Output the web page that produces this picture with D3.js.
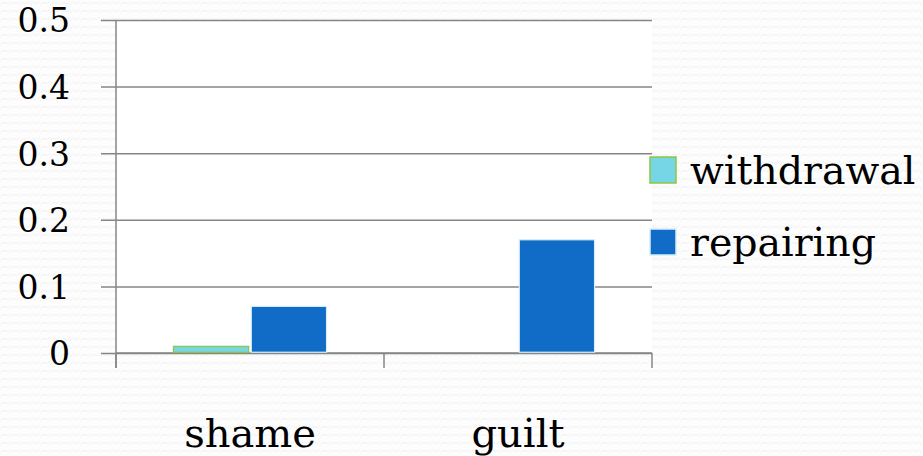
<!DOCTYPE html>
<html><head><meta charset="utf-8">
<script src="https://cdn.jsdelivr.net/npm/d3@7"></script>
<style>html,body{margin:0;padding:0;background:#fff;}svg{display:block;}</style>
</head><body>
<svg id="c" width="923" height="456"></svg>
<script>
const categories = ["shame", "guilt"];
const seriesNames = ["withdrawal", "repairing"];
const withdrawal = [0.01, 0];
const repairing = [0.07, 0.17];
const yTicks = [0, 0.1, 0.2, 0.3, 0.4, 0.5];
const yTickLabels = ["0", "0.1", "0.2", "0.3", "0.4", "0.5"];

const seriesValues = [withdrawal, repairing];
const fills = ["#76D6E6", "#106CC6"];
const strokes = ["#8DC63F", "#D6EEF8"];
const font = "'DejaVu Serif', serif";

const W = 923, H = 456;
const m = {l: 116, r: 271, t: 20, b: 103};
const svg = d3.select("#c");

// background pattern
const defs = svg.append("defs");
const pat = defs.append("pattern").attr("id", "bgp").attr("patternUnits", "userSpaceOnUse")
  .attr("width", 10).attr("height", 8);
pat.append("rect").attr("width", 10).attr("height", 8).attr("fill", "#fdfdfd");
pat.append("path").attr("d", "M0,5 Q2.5,1 5,3 Q7.5,5 10,1").attr("fill", "none")
  .attr("stroke", "#f0f0f0").attr("stroke-width", 1);
svg.append("rect").attr("width", W).attr("height", H).attr("fill", "url(#bgp)");

const x = d3.scaleBand().domain(categories).range([m.l, W - m.r]);
const y = d3.scaleLinear().domain([0, 0.5]).range([H - m.b, m.t]);

svg.append("rect").attr("x", m.l).attr("y", m.t).attr("width", W - m.r - m.l)
  .attr("height", H - m.b - m.t).attr("fill", "#ffffff");

// gridlines + y axis
const yAxis = d3.axisLeft(y).tickValues(yTicks).tickSize(-(W - m.r - m.l)).tickPadding(46)
  .tickFormat((d, i) => yTickLabels[i]);
const gy = svg.append("g").attr("transform", `translate(${m.l},0)`).call(yAxis);
gy.select(".domain").remove();
gy.selectAll(".tick line").attr("x1", -15).attr("stroke", "#868686").attr("stroke-width", 1.5);
gy.selectAll(".tick text").attr("font-family", font).attr("font-size", 33).attr("fill", "#000")
  .attr("x", -46).attr("dy", "0.36em");
svg.append("line").attr("x1", m.l).attr("x2", m.l).attr("y1", m.t).attr("y2", H - m.b + 15)
  .attr("stroke", "#868686").attr("stroke-width", 1.5);

// x axis
const xAxis = d3.axisBottom(x).tickSize(0).tickPadding(0);
const gx = svg.append("g").attr("transform", `translate(0,${H - m.b})`).call(xAxis);
gx.select(".domain").remove();
gx.selectAll(".tick text").attr("font-family", font).attr("font-size", 40).attr("fill", "#000")
  .attr("y", 94).attr("dy", 0);
svg.append("line").attr("x1", m.l).attr("x2", W - m.r).attr("y1", y(0)).attr("y2", y(0))
  .attr("stroke", "#868686").attr("stroke-width", 1.5);
const bounds = [m.l, ...categories.slice(1).map(c => x(c)), W - m.r];
svg.selectAll(".xt").data(bounds).join("line").attr("class", "xt")
  .attr("x1", d => d).attr("x2", d => d).attr("y1", y(0)).attr("y2", y(0) + 15)
  .attr("stroke", "#868686").attr("stroke-width", 1.5);

// bars
const inner = d3.scaleBand().domain(seriesNames).range([x.bandwidth()*0.2125, x.bandwidth()*0.7875]).paddingInner(0.02);
seriesNames.forEach((s, si) => {
  svg.selectAll(".bar" + si).data(categories).join("rect").attr("class", "bar" + si)
    .attr("x", c => x(c) + inner(s) + 0.5)
    .attr("width", inner.bandwidth() - 1)
    .attr("y", (c, i) => y(seriesValues[si][i]))
    .attr("height", (c, i) => Math.max(0, y(0) - y(seriesValues[si][i]) - 0.75))
    .attr("fill", fills[si])
    .attr("stroke", (c, i) => seriesValues[si][i] > 0 ? strokes[si] : "none")
    .attr("stroke-width", 1.2);
});

// legend
const lg = svg.append("g");
seriesNames.forEach((s, i) => {
  const cy = 170 + i * 72;
  lg.append("rect").attr("x", 650).attr("y", cy - 13).attr("width", 26).attr("height", 26)
    .attr("fill", fills[i]).attr("stroke", strokes[i]).attr("stroke-width", 1.5);
  lg.append("text").attr("x", 690).attr("y", cy + 14).attr("font-family", font)
    .attr("font-size", 39.5).attr("fill", "#000").text(s);
});
</script>
</body></html>
